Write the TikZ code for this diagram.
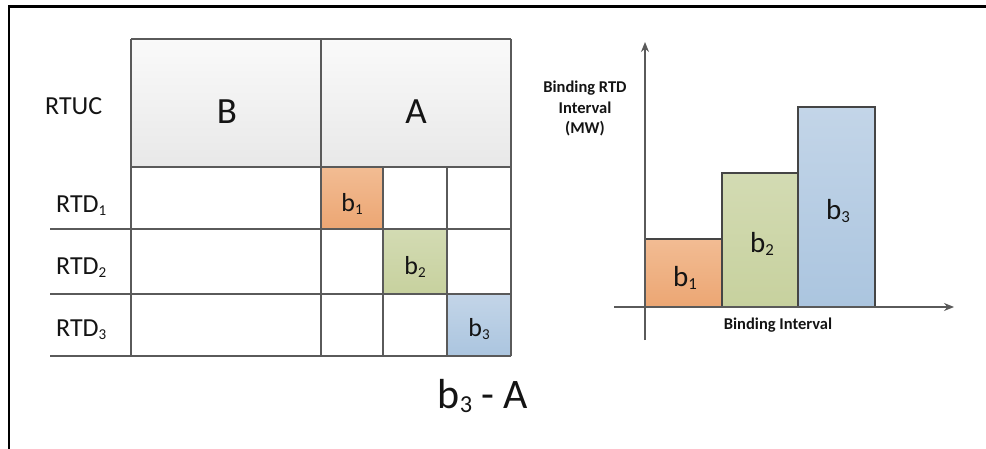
\documentclass[tikz,border=0pt]{standalone}
\usepackage{fontspec}
\usepackage{graphicx}
\setmainfont{Carlito}
\usetikzlibrary{arrows.meta}
\newcommand{\lsub}[1]{\raisebox{-0.1em}{\scalebox{0.58}{#1}}}
\definecolor{lineg}{HTML}{5A5A5A}
\definecolor{barline}{HTML}{454545}
\definecolor{txt}{HTML}{141414}
\definecolor{orT}{HTML}{F2BC93}
\definecolor{orB}{HTML}{ECA673}
\definecolor{grT}{HTML}{D3DBB3}
\definecolor{grB}{HTML}{C7D19E}
\definecolor{blT}{HTML}{C3D5E8}
\definecolor{blB}{HTML}{ABC5DF}
\begin{document}
\begin{tikzpicture}[x=1pt,y=-1pt,
  grid/.style={draw=lineg, line width=1.8pt},
  bar/.style={draw=barline, line width=1.6pt},
  axis/.style={draw=lineg, line width=1.6pt, -{Stealth[length=10pt,width=8pt]}},
  lbl/.style={text=txt, inner sep=0pt, anchor=base, font=\fontsize{26}{30}\selectfont},
  big/.style={text=txt, inner sep=0pt, anchor=base, font=\fontsize{37}{42}\selectfont},
  small/.style={text=txt, inner sep=0pt, anchor=base, font=\bfseries\fontsize{16.5}{20}\selectfont},
  orangefill/.style={top color=orT, bottom color=orB},
  greenfill/.style={top color=grT, bottom color=grB},
  bluefill/.style={top color=blT, bottom color=blB}
]
\useasboundingbox (0,0) rectangle (986,449);
% frame
\draw[line width=2.2pt] (9,449) -- (9,6.5) -- (986,6.5);

% header
\shade[top color=white!98!black, bottom color=white!91!black] (131,39) rectangle (511,167);
% coloured cells
\shade[orangefill] (321,167) rectangle (383,229);
\shade[greenfill] (383,229) rectangle (447,294);
\shade[bluefill] (447,294) rectangle (511,356);

% grid
\draw[grid] (131,39) -- (511,39);
\draw[grid] (131,167) -- (511,167);
\draw[grid] (50,229) -- (511,229);
\draw[grid] (50,294) -- (511,294);
\draw[grid] (50,356) -- (511,356);
\draw[grid] (131,39) -- (131,356);
\draw[grid] (321,39) -- (321,356);
\draw[grid] (511,39) -- (511,356);
\draw[grid] (383,167) -- (383,356);
\draw[grid] (447,167) -- (447,356);

% labels
\node[lbl, anchor=base west] (rtuc) at (45,115) {RTUC};
\node[big] (hB) at (227,124) {B};
\node[big] (hA) at (416,124) {A};
\node[lbl, anchor=base west] (rtd1) at (56,212.5) {RTD\lsub{1}};
\node[lbl, anchor=base west] (rtd2) at (56,275) {RTD\lsub{2}};
\node[lbl, anchor=base west] (rtd3) at (56,336.5) {RTD\lsub{3}};
\node[lbl] (c1) at (352,212) {b\lsub{1}};
\node[lbl] (c2) at (415,275) {b\lsub{2}};
\node[lbl] (c3) at (479,336.5) {b\lsub{3}};
\node[text=txt, inner sep=0pt, anchor=base, font=\fontsize{42}{48}\selectfont] (res) at (483,408) {b\lsub{3} - A};

% chart
\shade[orangefill] (645,239) rectangle (722,307);
\shade[greenfill] (722,173) rectangle (798,307);
\shade[bluefill] (798,107) rectangle (875,307);
\draw[bar] (645,307) -- (645,239) -- (722,239) -- (722,307);
\draw[bar] (722,307) -- (722,173) -- (798,173) -- (798,307);
\draw[bar] (798,307) -- (798,107) -- (875,107) -- (875,307);

\coordinate (yo) at (645,340);
\coordinate (yt) at (645,42);
\coordinate (xo) at (614,307);
\coordinate (xt) at (954,307);
\draw[axis] (yo) -- (yt);
\draw[axis] (xo) -- (xt);

\node[lbl, font=\fontsize{29}{34}\selectfont] (k1) at (685,287) {b\lsub{1}};
\node[lbl, font=\fontsize{29}{34}\selectfont] (k2) at (762,253) {b\lsub{2}};
\node[lbl, font=\fontsize{29}{34}\selectfont] (k3) at (838,220) {b\lsub{3}};

\node[small] (yl1) at (585,93) {Binding RTD};
\node[small] (yl2) at (585,114) {Interval};
\node[small] (yl3) at (585,134) {(MW)};
\node[small] (xl) at (778,330) {Binding Interval};
\end{tikzpicture}
\end{document}
